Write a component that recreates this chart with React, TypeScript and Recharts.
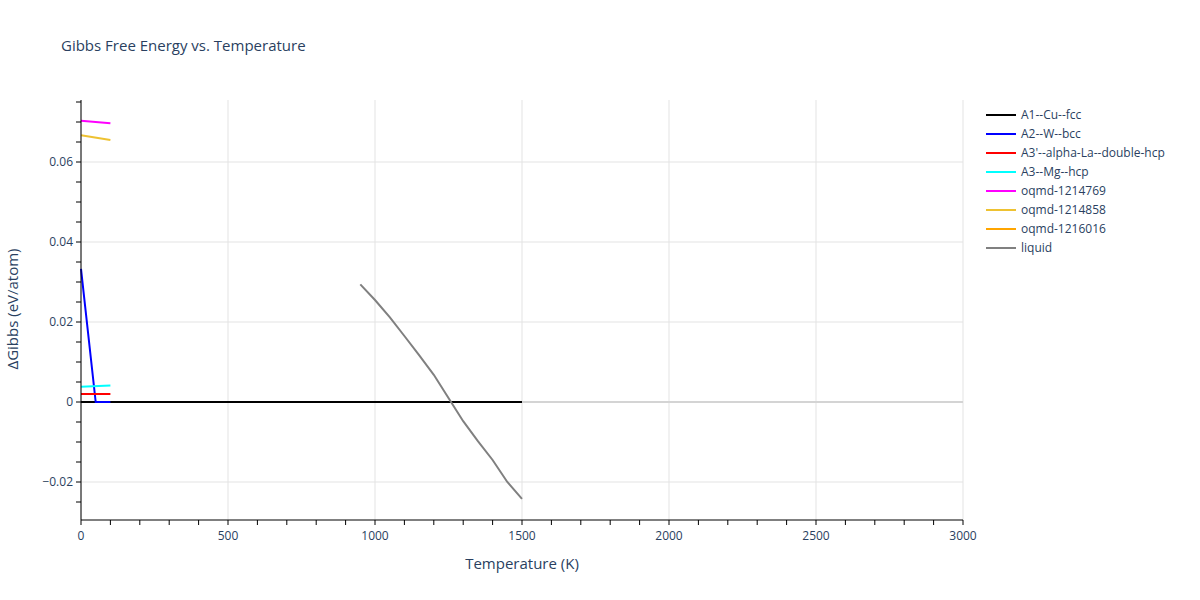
import { CartesianGrid, Line, LineChart, ReferenceLine, XAxis, YAxis } from "recharts";

// temperatures (K) and ΔG (eV/atom)
const cuFccT = [0, 1500];
const cuFccG = [0, 0];
const wBccT = [0, 50, 100];
const wBccG = [0.0333, 0, 0];
const laDhcpT = [0, 100];
const laDhcpG = [0.002, 0.002];
const mgHcpT = [0, 100];
const mgHcpG = [0.0038, 0.0041];
const oqmd769T = [0, 100];
const oqmd769G = [0.0703, 0.0697];
const oqmd858T = [0, 100];
const oqmd858G = [0.0667, 0.0655];
const oqmd016T: number[] = [];
const oqmd016G: number[] = [];
const liquidT = [950, 1000, 1050, 1100, 1150, 1200, 1250, 1300, 1350, 1400, 1450, 1500];
const liquidG = [0.0294, 0.0255, 0.0212, 0.0165, 0.0117, 0.0068, 0.001, -0.0048, -0.0098, -0.0145, -0.02, -0.0242];

const xTicks = [0, 500, 1000, 1500, 2000, 2500, 3000];
const xMinorTicks = Array.from({ length: 31 }, (_, i) => i * 100);
const yTicks = [-0.02, 0, 0.02, 0.04, 0.06];
const yMinorTicks = Array.from({ length: 21 }, (_, i) => Math.round((-0.025 + i * 0.005) * 1000) / 1000);

const toPoints = (ts: number[], gs: number[]) => ts.map((t, i) => ({ t, g: gs[i] }));

const series = [
  { name: "A1--Cu--fcc", color: "#000000", data: toPoints(cuFccT, cuFccG) },
  { name: "A2--W--bcc", color: "#0000ff", data: toPoints(wBccT, wBccG) },
  { name: "A3'--alpha-La--double-hcp", color: "#ff0000", data: toPoints(laDhcpT, laDhcpG) },
  { name: "A3--Mg--hcp", color: "#00ffff", data: toPoints(mgHcpT, mgHcpG) },
  { name: "oqmd-1214769", color: "#ff00ff", data: toPoints(oqmd769T, oqmd769G) },
  { name: "oqmd-1214858", color: "#eec232", data: toPoints(oqmd858T, oqmd858G) },
  { name: "oqmd-1216016", color: "#ffa500", data: toPoints(oqmd016T, oqmd016G) },
  { name: "liquid", color: "#808080", data: toPoints(liquidT, liquidG) },
];

const font = '"Open Sans", verdana, arial, sans-serif';
const textColor = "#2a3f5f";
const yDomain: [number, number] = [-0.0295, 0.0755];

function fmtY(v: number) {
  if (Math.abs(v) < 1e-9) return "0";
  const s = Math.abs(v).toFixed(2);
  return v < 0 ? `\u2212${s}` : s;
}

function XTick({ x, y, payload }: any) {
  const v = payload.value;
  if (!xTicks.includes(v)) return null;
  return (
    <text x={x} y={y} dy={12} textAnchor="middle" fontSize={12} fill={textColor} fontFamily={font}>
      {v}
    </text>
  );
}

function YTick({ x, y, payload }: any) {
  const v = payload.value;
  if (!yTicks.some((t) => Math.abs(t - v) < 1e-9)) return null;
  return (
    <text x={x} y={y} dy={4} textAnchor="end" fontSize={12} fill={textColor} fontFamily={font}>
      {fmtY(v)}
    </text>
  );
}

export default function App() {
  return (
    <div style={{ position: "absolute", left: 0, top: 0, width: 1200, height: 600, background: "#fff", fontFamily: font }}>
      <div style={{ position: "absolute", left: 61, top: 35, fontSize: 15, color: textColor }}>
        Gibbs Free Energy vs. Temperature
      </div>
      <LineChart width={1200} height={600} margin={{ top: 100, right: 237, bottom: 50, left: 31 }}>
        <CartesianGrid stroke="#e3e3e3" strokeWidth={1} horizontalValues={yTicks} verticalValues={xTicks} />
        <XAxis
          type="number"
          dataKey="t"
          domain={[0, 3000]}
          ticks={xMinorTicks}
          interval={0}
          height={30}
          axisLine={{ stroke: "#000", strokeWidth: 1 }}
          tickLine={{ stroke: "#000" }}
          tickSize={5}
          tickMargin={3}
          tick={<XTick />}
        />
        <YAxis
          type="number"
          dataKey="g"
          domain={yDomain}
          allowDataOverflow
          ticks={yMinorTicks}
          interval={0}
          width={50}
          axisLine={{ stroke: "#000", strokeWidth: 1 }}
          tickLine={{ stroke: "#000" }}
          tickSize={5}
          tickMargin={3}
          tick={<YTick />}
        />
        <ReferenceLine y={0} stroke="#d4d4d4" strokeWidth={2} />
        {series.map((s) => (
          <Line
            key={s.name}
            data={s.data}
            dataKey="g"
            type="linear"
            stroke={s.color}
            strokeWidth={2}
            dot={false}
            activeDot={false}
            isAnimationActive={false}
          />
        ))}
      </LineChart>
      <div style={{ position: "absolute", left: 522, top: 563, transform: "translate(-50%, -50%)", whiteSpace: "nowrap", fontSize: 15, color: textColor }}>
        Temperature (K)
      </div>
      <div style={{ position: "absolute", left: 12, top: 309, transform: "translate(-50%, -50%) rotate(-90deg)", whiteSpace: "nowrap", fontSize: 15, color: textColor }}>
        ΔGibbs (eV/atom)
      </div>
      <div style={{ position: "absolute", left: 986, top: 105 }}>
        {series.map((s) => (
          <div key={s.name} style={{ display: "flex", alignItems: "center", height: 19, fontSize: 12, color: textColor }}>
            <div style={{ width: 30, height: 2, background: s.color, marginRight: 5 }} />
            <span>{s.name}</span>
          </div>
        ))}
      </div>
    </div>
  );
}
